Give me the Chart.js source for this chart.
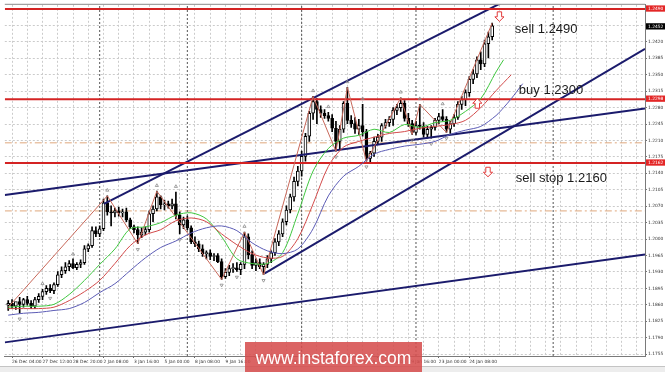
<!DOCTYPE html>
<html>
<head>
<meta charset="utf-8">
<script src="https://cdn.jsdelivr.net/npm/chart.js@4.4.1/dist/chart.umd.min.js"></script>
<style>
  html, body { margin: 0; padding: 0; background: #fff; }
  #box { width: 665px; height: 372px; }
</style>
</head>
<body>
<div id="box"><canvas id="chart" width="665" height="372"></canvas></div>
<script>
// EURUSD H4 candles, one entry per bar (bar 0 = first visible candle)
const opens = [
  1.1859,1.1863,1.1857,1.1867,1.1861,1.1871,1.1863,1.1857,1.1871,1.1878,
  1.1888,1.1895,1.1890,1.1903,1.1924,1.1933,1.1941,1.1948,1.1939,1.1946,
  1.1950,1.1979,1.1986,1.2018,1.2011,1.2022,1.2077,1.2058,1.2056,1.2060,
  1.2056,1.2058,1.2041,1.2026,1.2020,1.2009,1.2015,1.2020,1.2054,1.2064,
  1.2090,1.2073,1.2075,1.2071,1.2075,1.2051,1.2030,1.2041,1.2024,1.1994,
  1.1990,1.1979,1.1969,1.1971,1.1963,1.1965,1.1952,1.1920,1.1929,1.1937,
  1.1939,1.1935,1.1946,1.2005,1.1967,1.1944,1.1950,1.1941,1.1946,1.1958,
  1.1971,1.1994,1.2011,1.2037,1.2062,1.2090,1.2123,1.2145,1.2176,1.2219,
  1.2268,1.2293,1.2276,1.2268,1.2263,1.2257,1.2236,1.2208,1.2234,1.2289,
  1.2253,1.2246,1.2234,1.2242,1.2229,1.2172,1.2183,1.2208,1.2217,1.2242,
  1.2248,1.2255,1.2274,1.2280,1.2289,1.2257,1.2246,1.2227,1.2242,1.2240,
  1.2223,1.2234,1.2238,1.2253,1.2261,1.2255,1.2234,1.2246,1.2259,1.2287,
  1.2297,1.2312,1.2340,1.2352,1.2382,1.2373,1.2416,1.2431
];
const highs = [
  1.1869,1.1871,1.1865,1.1876,1.1874,1.1878,1.1869,1.1876,1.1884,1.1893,
  1.1901,1.1903,1.1907,1.1931,1.1941,1.1950,1.1954,1.1958,1.1950,1.1956,
  1.1986,1.1990,1.2026,1.2026,1.2028,1.2085,1.2092,1.2071,1.2066,1.2068,
  1.2064,1.2066,1.2045,1.2030,1.2026,1.2024,1.2026,1.2060,1.2071,1.2102,
  1.2092,1.2083,1.2081,1.2085,1.2100,1.2058,1.2047,1.2049,1.2028,1.2005,
  1.1996,1.1988,1.1975,1.1977,1.1969,1.1969,1.1958,1.1937,1.1944,1.1948,
  1.1950,1.1950,1.2015,1.2011,1.1975,1.1958,1.1958,1.1950,1.1965,1.1975,
  1.2001,1.2018,1.2043,1.2071,1.2096,1.2132,1.2155,1.2187,1.2225,1.2272,
  1.2304,1.2299,1.2284,1.2276,1.2270,1.2265,1.2251,1.2242,1.2293,1.2323,
  1.2263,1.2259,1.2255,1.2287,1.2234,1.2187,1.2217,1.2223,1.2246,1.2255,
  1.2261,1.2280,1.2287,1.2301,1.2295,1.2268,1.2253,1.2251,1.2287,1.2248,
  1.2240,1.2242,1.2257,1.2268,1.2276,1.2261,1.2251,1.2265,1.2293,1.2304,
  1.2318,1.2346,1.2361,1.2388,1.2399,1.2424,1.2441,1.2460
];
const lows = [
  1.1848,1.1852,1.1850,1.1842,1.1855,1.1859,1.1852,1.1852,1.1865,1.1871,
  1.1882,1.1886,1.1884,1.1899,1.1918,1.1927,1.1933,1.1937,1.1935,1.1939,
  1.1946,1.1973,1.1982,1.2005,1.2005,1.2018,1.2051,1.2028,1.2047,1.2049,
  1.2047,1.2037,1.2022,1.2013,1.1990,1.2003,1.2009,1.2015,1.2037,1.2060,
  1.2064,1.2062,1.2066,1.2064,1.2043,1.2011,1.2022,1.2020,1.1990,1.1984,
  1.1973,1.1963,1.1958,1.1956,1.1954,1.1950,1.1914,1.1916,1.1922,1.1929,
  1.1931,1.1924,1.1937,1.1958,1.1937,1.1933,1.1937,1.1924,1.1939,1.1950,
  1.1965,1.1986,1.2005,1.2030,1.2056,1.2081,1.2113,1.2134,1.2166,1.2208,
  1.2255,1.2246,1.2259,1.2257,1.2251,1.2229,1.2187,1.2191,1.2227,1.2246,
  1.2238,1.2225,1.2223,1.2219,1.2166,1.2162,1.2176,1.2202,1.2208,1.2236,
  1.2240,1.2242,1.2265,1.2272,1.2251,1.2240,1.2223,1.2223,1.2234,1.2217,
  1.2215,1.2215,1.2232,1.2246,1.2251,1.2227,1.2225,1.2240,1.2255,1.2276,
  1.2284,1.2304,1.2331,1.2344,1.2361,1.2367,1.2386,1.2424
];
const closes = [
  1.1863,1.1857,1.1867,1.1861,1.1871,1.1863,1.1857,1.1871,1.1878,1.1888,
  1.1895,1.1890,1.1903,1.1924,1.1933,1.1941,1.1948,1.1939,1.1946,1.1950,
  1.1979,1.1986,1.2018,1.2011,1.2022,1.2077,1.2058,1.2056,1.2060,1.2056,
  1.2058,1.2041,1.2026,1.2020,1.2009,1.2015,1.2020,1.2054,1.2064,1.2090,
  1.2073,1.2075,1.2071,1.2075,1.2051,1.2030,1.2041,1.2024,1.1994,1.1990,
  1.1979,1.1969,1.1971,1.1963,1.1965,1.1952,1.1920,1.1929,1.1937,1.1939,
  1.1935,1.1946,1.2005,1.1967,1.1944,1.1950,1.1941,1.1946,1.1958,1.1971,
  1.1994,1.2011,1.2037,1.2062,1.2090,1.2123,1.2145,1.2176,1.2219,1.2268,
  1.2293,1.2276,1.2268,1.2263,1.2257,1.2236,1.2208,1.2234,1.2289,1.2253,
  1.2246,1.2234,1.2242,1.2229,1.2172,1.2183,1.2208,1.2217,1.2242,1.2248,
  1.2255,1.2274,1.2280,1.2289,1.2257,1.2246,1.2227,1.2242,1.2240,1.2223,
  1.2234,1.2238,1.2253,1.2261,1.2255,1.2234,1.2246,1.2259,1.2287,1.2297,
  1.2312,1.2340,1.2352,1.2382,1.2373,1.2416,1.2431,1.2454
];

// Alligator lines every 4 bars (they run past the last candle)
const lipsBars = [0,4,8,12,16,20,24,28,32,36,40,44,48,52,56,60,64,68,72,76,80,84,88,92,96,100,104,108,112,116,120,124,128,130];
const lips = [1.1855,1.1857,1.1857,1.1861,1.1882,1.1912,1.1946,1.1979,1.2022,1.2026,1.2035,1.2051,1.2056,1.2043,1.2005,1.1958,1.1948,1.1948,1.1971,1.2054,1.2145,1.2193,1.2215,1.2221,1.2234,1.2227,1.2244,1.2238,1.2248,1.2253,1.2272,1.2299,1.2356,1.2382];
const teethBars = [0,4,8,12,16,20,24,28,32,36,40,44,48,52,56,60,64,68,72,76,80,84,88,92,96,100,104,108,112,116,120,124,128,132];
const teeth = [1.1852,1.1852,1.1852,1.1855,1.1869,1.1888,1.1912,1.1948,1.1986,1.2009,1.2020,1.2039,1.2045,1.2037,1.2011,1.1988,1.1969,1.1960,1.1963,1.2001,1.2075,1.2155,1.2196,1.2208,1.2217,1.2225,1.2229,1.2236,1.2240,1.2244,1.2253,1.2280,1.2316,1.2350];
const jawBars = [0,4,8,12,16,20,24,28,32,36,40,44,48,52,56,60,64,68,72,76,80,84,88,92,96,100,104,108,112,116,120,124,128,130,132,135];
const jaw = [1.1838,1.1842,1.1844,1.1848,1.1852,1.1865,1.1886,1.1905,1.1933,1.1960,1.1982,1.1996,1.2013,1.2024,1.2028,1.2018,1.1992,1.1975,1.1969,1.1979,1.2022,1.2092,1.2134,1.2155,1.2181,1.2191,1.2198,1.2202,1.2208,1.2223,1.2232,1.2240,1.2263,1.2280,1.2299,1.2331];

// zigzag swing points and fractal marks
const zigzagBars = [0,26,34,39,56,62,67,80,86,89,94,103,106,108,115,127];
const zigzag = [1.1855,1.2092,1.1990,1.2102,1.1914,1.2015,1.1924,1.2304,1.2187,1.2323,1.2166,1.2301,1.2223,1.2287,1.2227,1.2460];
const fractalUpBars = [9,17,26,39,44,62,80,84,89,93,103,108,114];
const fractalUp = [1.1905,1.1968,1.2104,1.2114,1.2112,1.2027,1.2316,1.2282,1.2335,1.2299,1.2313,1.2299,1.2288];
const fractalDownBars = [3,11,34,45,56,60,67,86,94,106,111,115];
const fractalDown = [1.1830,1.1874,1.1978,1.1999,1.1902,1.1919,1.1912,1.2175,1.2154,1.2211,1.2203,1.2215];

// drawn objects
const redLevels = [1.2490, 1.2298, 1.2162];
const dashLevels = [1.2205, 1.2060];
const trendLines = [
  [[25.1, 1.2075], [135, 1.2526]],
  [[-0.9, 1.2094], [167.1, 1.2278]],
  [[67.3, 1.1927], [167.1, 1.2405]],
  [[-0.9, 1.1780], [167.1, 1.1967]]
];
const separatorBars = [24, 47, 77, 107, 143];
const notes = [
  { text: 'sell 1.2490', bar: 132.9, price: 1.2439 },
  { text: 'buy 1.2300', bar: 134.0, price: 1.2310 },
  { text: 'sell stop 1.2160', bar: 133.2, price: 1.2121 }
];
const arrows = [
  { bar: 128.9, price: 1.2484, down: true },
  { bar: 123.1, price: 1.2299, down: false },
  { bar: 125.9, price: 1.2153, down: true }
];

// axes
const dateLabels = ['26 Dec 04:00','27 Dec 12:00','28 Dec 20:00','2 Jan 08:00','3 Jan 16:00','5 Jan 00:00','8 Jan 08:00','9 Jan 16:00','11 Jan 00:00','12 Jan 08:00','15 Jan 16:00','17 Jan 00:00','18 Jan 08:00','19 Jan 16:00','23 Jan 00:00','24 Jan 08:00'];
const dateLabelBars = [1,9,17,25,33,41,49,57,65,73,81,89,97,105,113,121];
const priceTicks = [1.1755,1.1790,1.1825,1.1860,1.1895,1.1930,1.1965,1.2000,1.2035,1.2070,1.2105,1.2140,1.2175,1.2210,1.2245,1.2280,1.2315,1.2350,1.2385,1.2420,1.2455];
const markedPrices = [1.2490, 1.2452, 1.2298, 1.2162];

const X_MIN = -0.9, X_MAX = 167.1;
const Y_MIN = 1.1751, Y_MAX = 1.2499;

const RED = '#d42323';
const NAVY = '#1b1b6c';
const markColors = { 1.2490: '#e32626', 1.2452: '#000000', 1.2298: '#e32626', 1.2162: '#e32626' };
const tickFont = { size: 4.4, family: 'DejaVu Sans' };

const labelMap = {};
dateLabelBars.forEach((b, i) => { labelMap[b] = dateLabels[i]; });
const gridBars = [];
for (let b = 1; b <= 165; b += 4) gridBars.push(b);

const pts = (xs, ys) => xs.map((x, i) => ({ x, y: ys[i] }));
const hLine = v => [{ x: X_MIN, y: v }, { x: X_MAX, y: v }];

const datasets = [];
// candle wicks and bodies
datasets.push({
  type: 'bar', order: 2, grouped: false, barThickness: 1,
  data: lows.map((l, i) => ({ x: i, y: [l, highs[i]] })),
  backgroundColor: '#000', borderWidth: 0
});
datasets.push({
  type: 'bar', order: 1, grouped: false, barThickness: 3, minBarLength: 1,
  data: opens.map((o, i) => ({ x: i, y: [o, closes[i]] })),
  backgroundColor: opens.map((o, i) => closes[i] >= o ? '#ffffff' : '#000000'),
  borderColor: '#000', borderWidth: 1, borderSkipped: false
});
const lineDefaults = { type: 'line', pointRadius: 0, fill: false };
separatorBars.forEach(b => datasets.push({ ...lineDefaults, order: 5, data: [{ x: b, y: Y_MIN }, { x: b, y: Y_MAX }], borderColor: '#555', borderWidth: 1, borderDash: [2, 2] }));
dashLevels.forEach(v => datasets.push({ ...lineDefaults, order: 5, data: hLine(v), borderColor: '#dfa77c', borderWidth: 1, borderDash: [7, 3, 2, 3] }));
datasets.push({ ...lineDefaults, order: 0, data: pts(jawBars, jaw), borderColor: '#5b5bb5', borderWidth: 1, tension: 0.3 });
datasets.push({ ...lineDefaults, order: 0, data: pts(teethBars, teeth), borderColor: '#d24a4a', borderWidth: 1, tension: 0.3 });
datasets.push({ ...lineDefaults, order: 0, data: pts(lipsBars, lips), borderColor: '#3fc63f', borderWidth: 1, tension: 0.3 });
datasets.push({ ...lineDefaults, order: 0, data: pts(zigzagBars, zigzag), borderColor: '#c8685a', borderWidth: 1 });
datasets.push({ type: 'line', order: 0, showLine: false, data: pts(fractalUpBars, fractalUp), pointStyle: 'triangle', pointRadius: 1.8, pointBorderColor: '#8a8a8a', pointBackgroundColor: 'rgba(0,0,0,0)', pointBorderWidth: 0.8 });
datasets.push({ type: 'line', order: 0, showLine: false, data: pts(fractalDownBars, fractalDown), pointStyle: 'triangle', pointRotation: 180, pointRadius: 1.8, pointBorderColor: '#8a8a8a', pointBackgroundColor: 'rgba(0,0,0,0)', pointBorderWidth: 0.8 });
redLevels.forEach(v => datasets.push({ ...lineDefaults, order: 0, data: hLine(v), borderColor: RED, borderWidth: 2 }));
trendLines.forEach(t => datasets.push({ ...lineDefaults, order: 0, data: t.map(([x, y]) => ({ x, y })), borderColor: NAVY, borderWidth: 2 }));

function drawArrow(ctx, cx, top, down) {
  const sw = 2.2, sh = 5, hw = 4.6, hh = 4.5;
  ctx.beginPath();
  if (down) {
    ctx.moveTo(cx - sw, top); ctx.lineTo(cx + sw, top); ctx.lineTo(cx + sw, top + sh);
    ctx.lineTo(cx + hw, top + sh); ctx.lineTo(cx, top + sh + hh); ctx.lineTo(cx - hw, top + sh);
    ctx.lineTo(cx - sw, top + sh);
  } else {
    ctx.moveTo(cx, top); ctx.lineTo(cx + hw, top + hh); ctx.lineTo(cx + sw, top + hh);
    ctx.lineTo(cx + sw, top + hh + sh); ctx.lineTo(cx - sw, top + hh + sh); ctx.lineTo(cx - sw, top + hh);
    ctx.lineTo(cx - hw, top + hh);
  }
  ctx.closePath();
  ctx.fillStyle = '#fff';
  ctx.fill();
  ctx.strokeStyle = '#e23a3a';
  ctx.lineWidth = 1;
  ctx.stroke();
}

const decor = {
  id: 'decor',
  beforeDraw(chart) {
    const ctx = chart.ctx;
    ctx.save();
    ctx.fillStyle = '#ededed';
    ctx.fillRect(0, 367, chart.width, 5);
    ctx.fillStyle = '#c4c4c4';
    ctx.fillRect(0, 366, chart.width, 1);
    ctx.restore();
  },
  afterDatasetsDraw(chart) {
    const { ctx, scales: { x, y } } = chart;
    ctx.save();
    arrows.forEach(a => drawArrow(ctx, x.getPixelForValue(a.bar), y.getPixelForValue(a.price), a.down));
    ctx.fillStyle = '#1a1a1a';
    ctx.font = '13px "Liberation Sans", Arial, sans-serif';
    ctx.textBaseline = 'alphabetic';
    notes.forEach(n => ctx.fillText(n.text, x.getPixelForValue(n.bar), y.getPixelForValue(n.price)));
    ctx.restore();
  },
  afterDraw(chart) {
    const { ctx, chartArea: a } = chart;
    ctx.save();
    ctx.fillStyle = '#8a8a8a';
    ctx.fillRect(a.left, a.top - 1, a.right - a.left, 1);
    ctx.fillStyle = 'rgba(214, 78, 78, 0.88)';
    ctx.fillRect(245, 342, 177, 30);
    ctx.fillStyle = '#fff';
    ctx.font = '17.5px "Liberation Sans", Arial, sans-serif';
    ctx.textAlign = 'center';
    ctx.textBaseline = 'alphabetic';
    ctx.fillText('www.instaforex.com', 333.5, 364);
    ctx.restore();
  }
};

new Chart(document.getElementById('chart'), {
  type: 'bar',
  data: { datasets },
  plugins: [decor],
  options: {
    responsive: false,
    animation: false,
    events: [],
    devicePixelRatio: 1,
    layout: { padding: { top: 3, left: 0, right: 0, bottom: 0 } },
    plugins: { legend: { display: false }, tooltip: { enabled: false } },
    scales: {
      x: {
        type: 'linear', min: X_MIN, max: X_MAX, offset: false,
        afterBuildTicks: ax => { ax.ticks = gridBars.map(v => ({ value: v })); },
        afterFit: ax => { ax.height = 16; },
        grid: {
          offset: false, color: '#cbcbcb', lineWidth: 1, tickLength: 2,
          tickColor: c => (c.tick && labelMap[c.tick.value]) ? '#666' : 'rgba(0,0,0,0)'
        },
        border: { color: '#7a7a7a', dash: [2, 2] },
        ticks: {
          autoSkip: false, maxRotation: 0, align: 'start', padding: 1,
          font: tickFont, color: '#333',
          callback: v => labelMap[v] || ''
        }
      },
      y: {
        position: 'right', min: Y_MIN, max: Y_MAX,
        afterBuildTicks: ax => { ax.ticks = priceTicks.concat(markedPrices).map(v => ({ value: v })); },
        afterFit: ax => { ax.width = 20; },
        grid: {
          color: c => (c.tick && markedPrices.includes(c.tick.value)) ? 'rgba(0,0,0,0)' : '#cbcbcb',
          lineWidth: 1, tickLength: 2, tickColor: '#777'
        },
        border: { color: '#7a7a7a', dash: [2, 2] },
        ticks: {
          autoSkip: false, padding: 1, font: tickFont,
          color: c => (c.tick && markedPrices.includes(c.tick.value)) ? '#fff' : '#333',
          showLabelBackdrop: true,
          backdropColor: c => (c.tick && markColors[c.tick.value]) || 'rgba(0,0,0,0)',
          backdropPadding: { top: 1, bottom: 0, left: 2, right: 3 },
          callback: v => v === 1.2455 ? '' : v.toFixed(4)
        }
      }
    }
  }
});
</script>
</body>
</html>
